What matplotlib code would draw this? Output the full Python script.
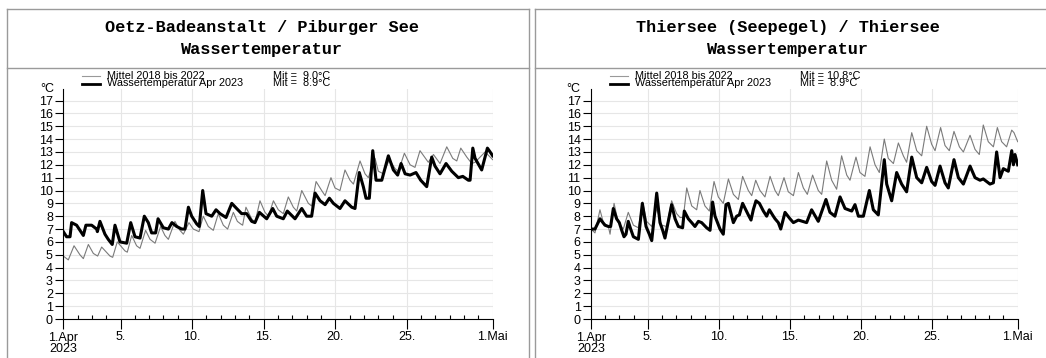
import matplotlib
matplotlib.use("Agg")
import matplotlib.pyplot as plt
from matplotlib.lines import Line2D

# Stundenwerte (Tag seit 1. April, Temperatur in °C), Stuetzstellen der Tagesgaenge
oetz_mean_t = [0, 0.35, 0.75, 1.16, 1.40, 1.75, 2.10, 2.40, 2.68, 3.26, 3.45, 3.77, 4.31, 4.47,
               4.78, 5.12, 5.36, 5.75, 6.06, 6.41, 6.80, 7.10, 7.34, 7.80, 8.15, 8.39, 8.78, 9.08,
               9.48, 9.78, 10.13, 10.48, 10.83, 11.18, 11.48, 11.88, 12.16, 12.39, 12.53, 12.76,
               13.16, 13.39, 13.74, 14.09, 14.33, 14.68, 15.02, 15.37, 15.72, 16.07, 16.31, 16.66,
               17.12, 17.35, 17.66, 18.05, 18.29, 18.70, 18.98, 19.33, 19.68, 20.03, 20.27, 20.73,
               21.08, 21.31, 21.78, 22.01, 22.36, 22.78, 23.18, 23.41, 23.83, 24.23, 24.57, 24.92,
               25.50, 25.86, 26.32, 26.79, 27.21, 27.49, 27.77, 28.19, 28.54, 28.77, 29.47, 30.0]
oetz_mean_v = [4.9, 4.6, 5.7, 5.0, 4.7, 5.8, 5.1, 4.9, 5.6, 4.9, 4.8, 6.0, 5.3, 5.2,
               6.5, 5.7, 5.5, 6.9, 6.2, 5.9, 7.2, 6.5, 6.2, 7.6, 6.9, 6.6, 7.5, 7.0,
               6.8, 8.0, 7.2, 6.9, 8.2, 7.3, 7.0, 8.3, 7.6, 7.4, 7.3, 8.7,
               7.8, 7.5, 9.2, 8.3, 8.0, 9.2, 8.5, 8.2, 9.5, 8.7, 8.4, 10.0,
               9.0, 8.8, 10.7, 10.0, 9.6, 11.0, 10.2, 10.0, 11.6, 10.8, 10.5, 12.3,
               11.3, 11.0, 12.5, 11.5, 11.3, 12.4, 11.7, 11.5, 12.9, 12.0, 11.8, 13.1,
               12.2, 12.8, 12.1, 13.4, 12.5, 12.3, 13.3, 12.6, 12.1, 12.2, 13.0, 12.4]

oetz_2023_t = [0, 0.23, 0.47, 0.58, 0.93, 1.40, 1.58, 1.98, 2.33, 2.38, 2.56, 2.91, 3.14, 3.42,
               3.61, 3.96, 4.43, 4.71, 5.01, 5.36, 5.66, 5.94, 6.17, 6.45, 6.62, 6.99, 7.34, 7.59,
               7.92, 8.27, 8.50, 8.74, 8.97, 9.32, 9.50, 9.74, 9.97, 10.37, 10.67, 10.95, 11.37,
               11.77, 12.11, 12.46, 12.81, 13.16, 13.39, 13.70, 14.21, 14.63, 14.91, 15.37, 15.65,
               16.19, 16.66, 17.00, 17.35, 17.59, 17.94, 18.29, 18.59, 18.87, 19.33, 19.68, 20.15,
               20.38, 20.68, 20.96, 21.15, 21.38, 21.62, 21.85, 22.25, 22.71, 23.06, 23.36, 23.60,
               23.88, 24.23, 24.64, 24.97, 25.39, 25.74, 25.97, 26.32, 26.74, 27.14, 27.60, 27.91,
               28.30, 28.42, 28.61, 28.77, 29.23, 29.63, 29.82, 30.0]
oetz_2023_v = [6.8, 6.4, 6.4, 7.5, 7.3, 6.5, 7.3, 7.3, 7.0, 6.8, 7.6, 6.6, 6.2, 5.8,
               7.3, 6.0, 5.9, 7.5, 6.4, 6.3, 8.0, 7.5, 6.7, 6.7, 7.8, 7.1, 7.0, 7.5,
               7.2, 7.0, 7.0, 8.7, 8.0, 7.4, 7.2, 10.0, 8.2, 8.0, 8.5, 8.2, 7.9,
               9.0, 8.6, 8.2, 8.2, 7.6, 7.5, 8.3, 7.8, 8.6, 8.0, 7.8, 8.4,
               7.8, 8.6, 8.0, 8.0, 9.8, 9.2, 8.9, 9.4, 9.0, 8.6, 9.2, 8.7,
               8.6, 11.4, 10.3, 9.4, 9.4, 13.1, 10.8, 10.8, 12.7, 11.6, 11.2, 12.1,
               11.3, 11.2, 11.4, 10.8, 10.3, 12.6, 11.9, 11.3, 12.1, 11.5, 11.0, 11.1,
               10.8, 10.8, 13.3, 12.5, 11.6, 13.3, 13.0, 12.7]

thiersee_mean_t = [0, 0.28, 0.63, 0.87, 1.22, 1.34, 1.62, 1.92, 2.27, 2.62, 2.98, 3.33, 3.63, 3.91,
                   4.27, 4.62, 4.97, 5.32, 5.67, 6.02, 6.26, 6.49, 6.73, 7.08, 7.43, 7.66, 8.01,
                   8.32, 8.65, 8.95, 9.30, 9.66, 10.01, 10.36, 10.66, 11.06, 11.30, 11.58, 11.88,
                   12.23, 12.59, 12.94, 13.17, 13.57, 13.87, 14.23, 14.58, 14.93, 15.21, 15.58,
                   15.98, 16.22, 16.57, 16.92, 17.27, 17.62, 17.98, 18.21, 18.63, 18.91, 19.26,
                   19.62, 19.97, 20.27, 20.62, 20.90, 21.26, 21.61, 21.96, 22.19, 22.55, 22.90,
                   23.25, 23.60, 23.95, 24.19, 24.58, 24.89, 25.19, 25.52, 25.90, 26.18, 26.65,
                   27.00, 27.30, 27.58, 27.93, 28.29, 28.57, 28.87, 29.22, 29.58, 29.74, 30.0]
thiersee_mean_v = [7.0, 6.7, 8.5, 7.5, 7.2, 6.6, 9.0, 7.5, 7.0, 8.3, 7.3, 7.1, 9.1, 7.6,
                   7.2, 8.6, 7.3, 7.2, 9.2, 8.2, 7.9, 7.9, 10.2, 8.8, 8.5, 10.0, 8.8,
                   8.4, 10.7, 9.5, 9.0, 10.9, 9.7, 9.3, 11.1, 10.0, 9.6, 10.8, 10.0,
                   9.5, 11.1, 10.0, 9.6, 11.0, 9.9, 9.6, 11.4, 10.2, 9.7, 11.2,
                   10.0, 9.7, 12.3, 10.8, 10.1, 12.7, 11.2, 10.8, 12.6, 11.4, 11.1,
                   13.4, 12.0, 11.4, 14.0, 12.5, 12.1, 13.7, 12.7, 12.2, 14.5, 13.1,
                   12.7, 15.0, 13.6, 13.1, 14.9, 13.5, 13.1, 14.6, 13.4, 13.0, 14.3,
                   13.2, 12.8, 15.1, 13.8, 13.4, 14.9, 13.8, 13.4, 14.7, 14.5, 13.8]

thiersee_2023_t = [0, 0.28, 0.63, 0.98, 1.22, 1.38, 1.57, 1.80, 1.99, 2.16, 2.32, 2.46, 2.62, 2.79,
                   2.98, 3.33, 3.61, 3.87, 4.10, 4.27, 4.62, 4.85, 5.04, 5.20, 5.67, 5.91, 6.14,
                   6.44, 6.56, 6.84, 7.08, 7.31, 7.55, 7.78, 8.13, 8.37, 8.55, 8.72, 9.07, 9.30,
                   9.49, 9.66, 10.01, 10.24, 10.43, 10.66, 11.06, 11.25, 11.41, 11.60, 11.84,
                   12.12, 12.35, 12.54, 12.82, 12.94, 13.17, 13.34, 13.64, 13.99, 14.23, 14.58,
                   15.16, 15.51, 15.98, 16.52, 16.80, 17.15, 17.51, 17.86, 18.33, 18.56, 18.80,
                   19.15, 19.57, 19.85, 20.20, 20.62, 20.79, 21.14, 21.49, 21.84, 22.19, 22.55,
                   22.90, 23.25, 23.60, 23.95, 24.19, 24.54, 24.89, 25.12, 25.52, 25.83, 26.18,
                   26.65, 27.00, 27.35, 27.58, 28.05, 28.29, 28.52, 28.76, 28.99, 29.34, 29.58,
                   29.70, 29.81, 30.0]
thiersee_2023_v = [7.0, 7.0, 7.8, 7.3, 7.2, 7.2, 8.6, 7.8, 7.5, 6.9, 6.4, 6.6, 7.6, 7.0,
                   6.4, 6.2, 9.0, 7.2, 6.6, 6.1, 9.8, 7.5, 6.9, 6.3, 8.9, 7.8, 7.2,
                   7.1, 8.4, 7.8, 7.5, 7.2, 7.6, 7.5, 7.1, 6.9, 9.1, 8.0, 7.0, 6.6,
                   8.9, 9.0, 7.5, 8.0, 8.1, 9.0, 8.1, 7.7, 8.5, 9.2, 9.0,
                   8.4, 8.0, 8.5, 8.0, 7.8, 7.5, 7.0, 8.3, 7.8, 7.5, 7.7,
                   7.5, 8.5, 7.6, 9.3, 8.3, 8.0, 9.5, 8.6, 8.4, 8.9, 8.0,
                   8.0, 10.0, 8.5, 8.1, 12.4, 10.5, 9.2, 11.4, 10.5, 9.9, 12.6,
                   11.0, 10.6, 11.8, 10.7, 10.4, 11.9, 10.6, 10.2, 12.4, 11.0, 10.5,
                   11.9, 11.0, 10.8, 10.9, 10.5, 10.6, 13.0, 11.0, 11.7, 11.5, 13.1,
                   12.0, 12.8, 12.0]

tick_days = [0, 4, 9, 14, 19, 24, 30]
tick_labels = ["1.Apr\n2023", "5.", "10.", "15.", "20.", "25.", "1.Mai"]
legend_names = ["Mittel 2018 bis 2022", "Wassertemperatur Apr 2023"]

panels = [
    {"title": "Oetz-Badeanstalt / Piburger See", "mean": (oetz_mean_t, oetz_mean_v),
     "obs": (oetz_2023_t, oetz_2023_v), "mit": ["Mit =  9.0°C", "Mit =  8.9°C"],
     "box": (7, 529), "ax": (63.3, 492.7), "leg_x": 82, "mit_x": 273, "degc_x": 47},
    {"title": "Thiersee (Seepegel) / Thiersee", "mean": (thiersee_mean_t, thiersee_mean_v),
     "obs": (thiersee_2023_t, thiersee_2023_v), "mit": ["Mit = 10.8°C", "Mit =  8.9°C"],
     "box": (535, 1050), "ax": (591, 1017.7), "leg_x": 610, "mit_x": 800, "degc_x": 573},
]

W, H = 1046, 358
fig = plt.figure(figsize=(W / 100, H / 100), dpi=100)
sans = "Liberation Sans"


def fx(px):
    return px / W


def fy(py):
    return 1 - py / H


def hline(x0, x1, y, **kw):
    fig.add_artist(Line2D([fx(x0), fx(x1)], [fy(y), fy(y)], transform=fig.transFigure, **kw))


def vline(x, y0, y1, **kw):
    fig.add_artist(Line2D([fx(x), fx(x)], [fy(y0), fy(y1)], transform=fig.transFigure, **kw))


frame = dict(color="#9a9a9a", lw=1.0)
y_top, y_zero = 89, 319
ymax = 17.9

for p in panels:
    bx0, bx1 = p["box"]
    ax0, ax1 = p["ax"]

    # Rahmen und Titelblock
    hline(bx0, bx1, 9, **frame)
    vline(bx0, 9, 360, **frame)
    if bx1 < W:
        vline(bx1, 9, 360, **frame)
    hline(bx0, bx1, 68, **frame)
    cx = (ax0 + ax1) / 2 - 16
    fig.text(fx(cx), fy(38.5), p["title"] + "\nWassertemperatur", family="Liberation Mono",
             weight="bold", fontsize=12.2, ha="center", va="center", multialignment="center",
             linespacing=1.65)

    # Legende: zwei eng gesetzte Zeilen
    lx = p["leg_x"]
    hline(lx, lx + 18, 76, color="#999999", lw=0.8)
    hline(lx, lx + 18, 83.5, color="black", lw=2.0)
    fig.text(fx(lx + 25), fy(79.8), "\n".join(legend_names), family=sans, fontsize=7.8,
             va="center", linespacing=0.62)
    fig.text(fx(p["mit_x"]), fy(79.8), "\n".join(p["mit"]), family=sans, fontsize=7.8,
             va="center", linespacing=0.62)
    fig.text(fx(p["degc_x"]), fy(89), "°C", family=sans, fontsize=9, ha="center", va="center")

    ax = fig.add_axes([fx(ax0), fy(y_zero), fx(ax1 - ax0), (y_zero - y_top) / H])
    ax.plot(*p["mean"], color="#7a7a7a", lw=0.8)
    ax.plot(*p["obs"], color="black", lw=2.2, solid_joinstyle="round")
    ax.set_xlim(0, 30)
    ax.set_ylim(0, ymax)
    ax.set_yticks(range(0, 18))
    ax.set_xticks(tick_days)
    ax.set_xticklabels(tick_labels, family=sans, fontsize=9, linespacing=1.0)
    ax.set_xticks(range(0, 31), minor=True)
    for lab in ax.get_yticklabels():
        lab.set_family(sans)
        lab.set_fontsize(9)
    ax.tick_params(axis="y", length=6, width=0.8, pad=1.5)
    ax.tick_params(axis="x", which="major", length=7, width=0.8, pad=2)
    ax.tick_params(axis="x", which="minor", direction="in", length=3, width=0.8)
    ax.grid(True, which="major", color="#e6e6e6", lw=0.8)
    ax.set_axisbelow(True)
    for s in ("top", "right"):
        ax.spines[s].set_visible(False)
    for s in ("left", "bottom"):
        ax.spines[s].set_linewidth(0.8)

fig.savefig("out.png", dpi=100)
